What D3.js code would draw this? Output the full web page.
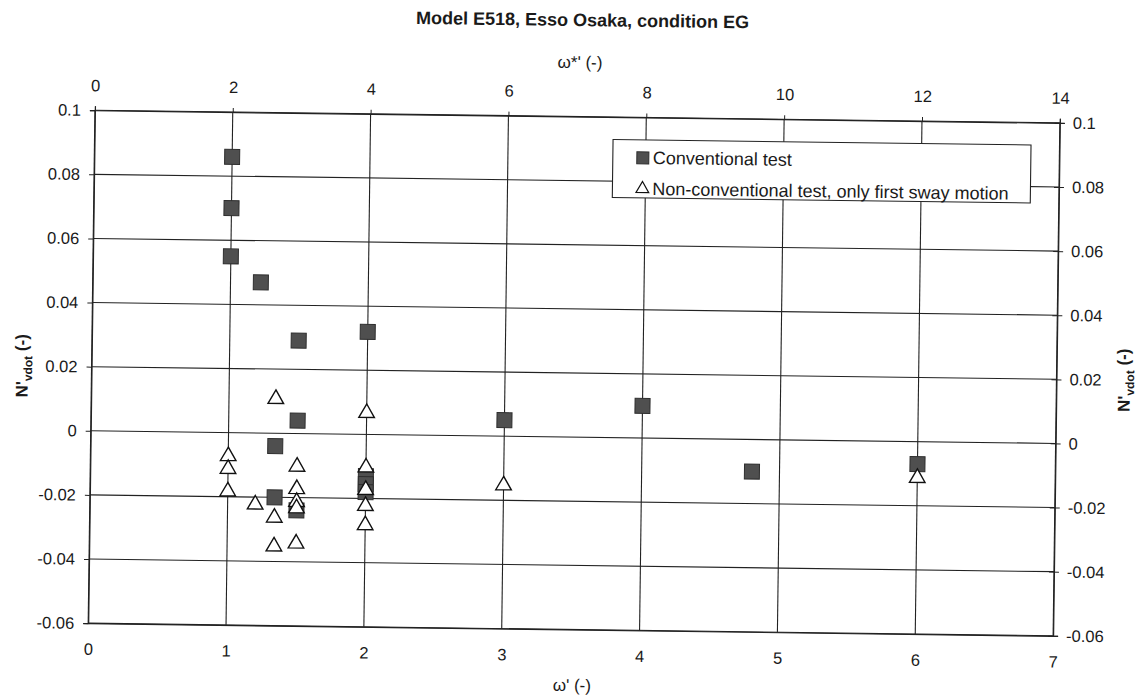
<!DOCTYPE html>
<html>
<head>
<meta charset="utf-8">
<script src="https://cdn.jsdelivr.net/npm/d3@7"></script>
<style>
  body { margin: 0; background: #fff; }
  text { font-family: "Liberation Sans", Arial, sans-serif; fill: #1a1a1a; }
</style>
</head>
<body>
<div id="chart"></div>
<script>
// tick values
const xTicksBottom = [0, 1, 2, 3, 4, 5, 6, 7];
const xTicksTop = [0, 2, 4, 6, 8, 10, 12, 14];
const yTicks = [-0.06, -0.04, -0.02, 0, 0.02, 0.04, 0.06, 0.08, 0.1];

// Conventional test (omega', N'vdot)
const convX = [1, 1, 1, 1.22, 1.5, 2, 1.5, 1.34, 1.34, 1.5, 2, 2, 2, 3, 4, 4.8, 6];
const convY = [0.086, 0.070, 0.055, 0.047, 0.029, 0.032, 0.004, -0.004, -0.020, -0.024, -0.013, -0.0155, -0.018, 0.005, 0.010, -0.010, -0.007];

// Non-conventional test, only first sway motion
const nonX = [1, 1, 1, 1.2, 1.34, 1.34, 1.34, 1.5, 1.5, 1.5, 1.5, 1.5, 2, 2, 2, 2, 2, 3, 6];
const nonY = [-0.007, -0.011, -0.018, -0.022, 0.011, -0.026, -0.035, -0.010, -0.017, -0.021, -0.023, -0.034, 0.007, -0.010, -0.017, -0.022, -0.028, -0.015, -0.011];

const legendLabels = ["Conventional test", "Non-conventional test, only first sway motion"];

// dimensions
const W = 1144, H = 699;
const margin = {top: 116.5, right: 87.5, bottom: 69.5, left: 91.5},
    width = W - margin.left - margin.right,
    height = H - margin.top - margin.bottom;

const root = d3.select("#chart")
  .append("svg")
    .attr("width", W)
    .attr("height", H)
  // the scanned page is a little skewed
  .append("g")
    .attr("transform", `rotate(0.75, ${margin.left + width / 2}, ${margin.top + height / 2})`);

const svg = root.append("g")
    .attr("transform", `translate(${margin.left},${margin.top})`);

const x = d3.scaleLinear().domain([0, 7]).range([0, width]);
const x2 = d3.scaleLinear().domain([0, 14]).range([0, width]);
const y = d3.scaleLinear().domain([-0.06, 0.1]).range([height, 0]);

const fmt = d => String(+d.toFixed(2));

// grid
svg.selectAll(".hgrid")
  .data(yTicks)
  .join("line")
    .attr("x1", 0).attr("x2", width)
    .attr("y1", d => y(d)).attr("y2", d => y(d))
    .attr("stroke", "#222").attr("stroke-width", 1.1);

svg.selectAll(".vgrid")
  .data(xTicksBottom)
  .join("line")
    .attr("x1", d => x(d)).attr("x2", d => x(d))
    .attr("y1", 0).attr("y2", height)
    .attr("stroke", "#222").attr("stroke-width", 1.1);

// axes
function styleAxis(g) {
  g.select(".domain").attr("stroke", "#222").attr("stroke-width", 1.2);
  g.selectAll(".tick line").attr("stroke", "#222");
  g.selectAll("text").attr("font-size", 16.5).attr("fill", "#1a1a1a")
    .attr("font-family", "Liberation Sans, Arial, sans-serif");
}

svg.append("g")
  .attr("transform", `translate(0,${height})`)
  .call(d3.axisBottom(x).tickValues(xTicksBottom).tickFormat(d3.format("d")).tickSize(0).tickPadding(20))
  .call(styleAxis);

svg.append("g")
  .call(d3.axisTop(x2).tickValues(xTicksTop).tickFormat(d3.format("d")).tickSize(4).tickPadding(15))
  .call(styleAxis);

svg.append("g")
  .call(d3.axisLeft(y).tickValues(yTicks).tickFormat(fmt).tickSize(5).tickPadding(9))
  .call(styleAxis);

const right = svg.append("g")
  .attr("transform", `translate(${width},0)`)
  .call(d3.axisRight(y).tickValues(yTicks).tickFormat(fmt).tickSize(5).tickPadding(8))
  .call(styleAxis);
right.selectAll(".tick line").attr("x1", -5);

// points
const conv = convX.map((v, i) => ({x: v, y: convY[i]}));
const non = nonX.map((v, i) => ({x: v, y: nonY[i]}));

const sq = 15;
svg.selectAll(".conv")
  .data(conv)
  .join("rect")
    .attr("class", "conv")
    .attr("x", d => x(d.x) - sq / 2)
    .attr("y", d => y(d.y) - sq / 2)
    .attr("width", sq)
    .attr("height", sq)
    .attr("fill", "#4f4f4f")
    .attr("stroke", "#2e2e2e")
    .attr("stroke-width", 1);

const tri = d3.symbol().type(d3.symbolTriangle).size(105);
svg.selectAll(".non")
  .data(non)
  .join("path")
    .attr("class", "non")
    .attr("d", tri)
    .attr("transform", d => `translate(${x(d.x)},${y(d.y) + 1})`)
    .attr("fill", "#fff")
    .attr("stroke", "#111")
    .attr("stroke-width", 1.4);

// legend
const lg = svg.append("g")
  .attr("transform", `translate(${610 - margin.left},${139 - margin.top})`);
lg.append("rect")
  .attr("width", 418).attr("height", 58)
  .attr("fill", "#fff").attr("stroke", "#222").attr("stroke-width", 1.1);
lg.append("rect")
  .attr("x", 24).attr("y", 12).attr("width", 12).attr("height", 12)
  .attr("fill", "#4f4f4f").attr("stroke", "#2e2e2e");
lg.append("path")
  .attr("d", d3.symbol().type(d3.symbolTriangle).size(70))
  .attr("transform", "translate(30,49)")
  .attr("fill", "#fff").attr("stroke", "#111").attr("stroke-width", 1.2);
lg.selectAll(".ltext")
  .data(legendLabels)
  .join("text")
    .attr("x", 40)
    .attr("y", (d, i) => 24 + i * 31)
    .attr("font-size", 18)
    .text(d => d);

// titles
root.append("text")
  .attr("x", margin.left + width / 2 + 4)
  .attr("y", 26)
  .attr("text-anchor", "middle")
  .attr("font-size", 18)
  .attr("font-weight", "bold")
  .text("Model E518, Esso Osaka, condition EG");

root.append("text")
  .attr("x", margin.left + width / 2 + 2)
  .attr("y", 68)
  .attr("text-anchor", "middle")
  .attr("font-size", 17)
  .text("ω*' (-)");

root.append("text")
  .attr("x", margin.left + width / 2 + 2)
  .attr("y", 691)
  .attr("text-anchor", "middle")
  .attr("font-size", 17)
  .text("ω' (-)");

function nLabel(cx) {
  const t = root.append("text")
    .attr("transform", `translate(${cx},${margin.top + height / 2}) rotate(-90)`)
    .attr("text-anchor", "middle")
    .attr("dy", "0.35em")
    .attr("font-size", 17)
    .attr("font-weight", "bold");
  t.append("tspan").text("N'");
  t.append("tspan").attr("font-size", 12).attr("dy", "0.35em").text("vdot");
  t.append("tspan").attr("dy", "-0.3em").text(" (-)");
}
nLabel(22);
nLabel(1124);
</script>
</body>
</html>
